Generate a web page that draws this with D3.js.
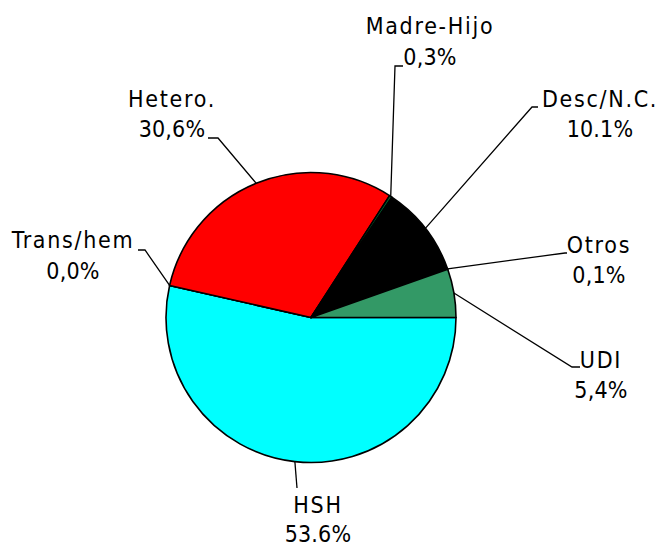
<!DOCTYPE html>
<html><head><meta charset="utf-8">
<script src="https://cdn.jsdelivr.net/npm/d3@7"></script>
<style>html,body{margin:0;padding:0;background:#fff;}</style>
</head><body>
<svg id="c" width="659" height="545"></svg>
<script>
const categories = ["HSH","Trans/hem","Hetero.","Madre-Hijo","Desc/N.C.","Otros","UDI"];
const values = [53.6, 0.0, 30.6, 0.3, 10.1, 0.1, 5.4];
const valueLabels = ["53.6%","0,0%","30,6%","0,3%","10.1%","0,1%","5,4%"];
const colors = ["#00FFFF","#CCCCFF","#FF0000","#006633","#000000","#993366","#339966"];

// label layout (elbow point of the leader, hook end, text center / first baseline)
const layout = {
  "HSH":        {elbow:[297,488], hook:null,        tx:318, ty:512.5, gap:29},
  "Trans/hem":  {elbow:[145,250], hook:[138,250],   tx:73,  ty:248,   gap:31},
  "Hetero.":    {elbow:[218,138], hook:[208,138],   tx:172, ty:106.5, gap:30},
  "Madre-Hijo": {elbow:[395,66],  hook:[403,66],    tx:430, ty:34,    gap:31},
  "Desc/N.C.":  {elbow:[532,107], hook:[538,107],   tx:600, ty:107,   gap:30},
  "Otros":      {elbow:[565,253], hook:[567,253],   tx:599, ty:253,   gap:30},
  "UDI":        {elbow:[572,367], hook:[580,367],   tx:601, ty:368,   gap:30}
};

const svg = d3.select("#c");
const cx = 311, cy = 317.5, r = 145;
const g = svg.append("g").attr("transform", `translate(${cx},${cy})`);

const pie = d3.pie().sort(null).value(d => d.v)
  .startAngle(Math.PI/2).endAngle(Math.PI/2 + 2*Math.PI);
const data = categories.map((c,i)=>({c, v:values[i], lab:valueLabels[i], col:colors[i]}));
const arcs = pie(data);
const arc = d3.arc().innerRadius(0).outerRadius(r);

g.selectAll("path.s").data(arcs).join("path")
  .attr("class","s")
  .attr("d", arc)
  .attr("fill", d => d.data.col)
  .attr("stroke", "#000")
  .attr("stroke-width", 1.6)
  .attr("stroke-linejoin","round");

const font = "'DejaVu Sans Condensed','DejaVu Sans',sans-serif";
arcs.forEach(a => {
  const L = layout[a.data.c];
  const m = (a.startAngle + a.endAngle)/2;
  const sx = cx + r*Math.sin(m), sy = cy - r*Math.cos(m);
  const pts = [[sx,sy], L.elbow];
  if (L.hook) pts.push(L.hook);
  svg.append("path")
    .attr("d", d3.line()(pts))
    .attr("fill","none").attr("stroke","#000").attr("stroke-width",1.3);
  const t = svg.append("text")
    .attr("text-anchor","middle")
    .attr("font-family", font).attr("font-size", 23)
    .attr("fill","#000");
  t.append("tspan").attr("x", L.tx).attr("y", L.ty)
    .attr("letter-spacing","1.7px").text(a.data.c);
  t.append("tspan").attr("x", L.tx).attr("y", L.ty + L.gap)
    .attr("letter-spacing","0.2px").text(a.data.lab);
});
</script>
</body></html>
